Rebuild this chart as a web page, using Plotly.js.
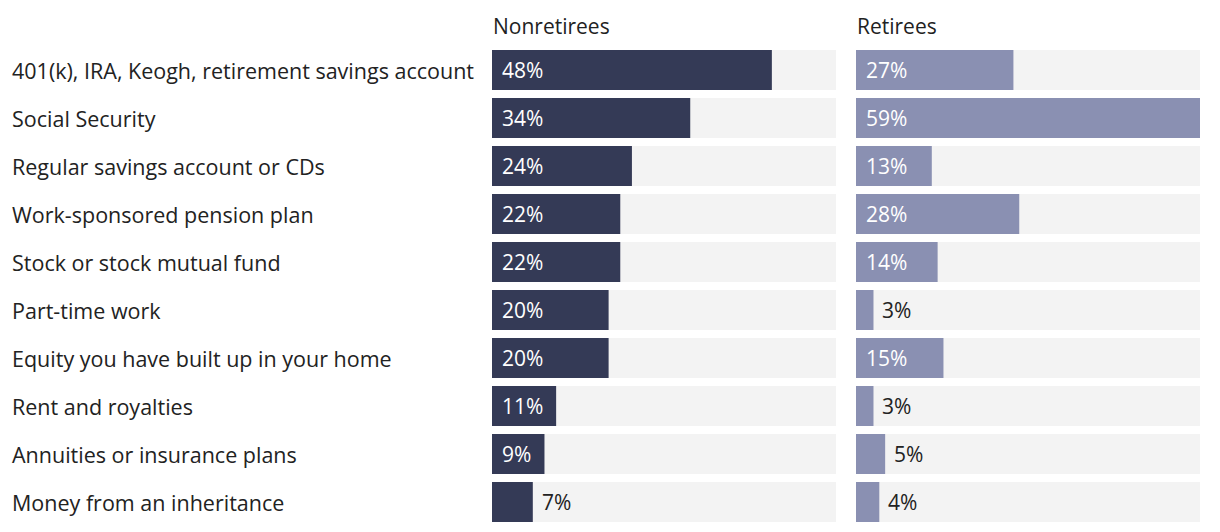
<!DOCTYPE html>
<html>
<head>
<meta charset="utf-8">
<script src="https://cdn.plot.ly/plotly-3.0.1.min.js"></script>
<style>html,body{margin:0;padding:0;background:#fff;}#chart{width:1220px;height:532px;}</style>
</head>
<body>
<div id="chart"></div>
<script>
const categories = [
  "401(k), IRA, Keogh, retirement savings account",
  "Social Security",
  "Regular savings account or CDs",
  "Work-sponsored pension plan",
  "Stock or stock mutual fund",
  "Part-time work",
  "Equity you have built up in your home",
  "Rent and royalties",
  "Annuities or insurance plans",
  "Money from an inheritance"
];
const nonretirees = [48, 34, 24, 22, 22, 20, 20, 11, 9, 7];
const retirees = [27, 59, 13, 28, 14, 3, 15, 3, 5, 4];
const panelTitles = ["Nonretirees", "Retirees"];

const W = 1220, H = 532;
const mL = 492, mR = 20, mT = 46, mB = 6;
const plotW = W - mL - mR;
const gapPx = 20;
const panelW = (plotW - gapPx) / 2;
const d1 = [0, panelW / plotW];
const d2 = [(panelW + gapPx) / plotW, 1];
const maxV = Math.max(...nonretirees, ...retirees);
const track = categories.map(() => maxV);
const FONT = "'Open Sans', sans-serif";
const FS = 21;
const FSL = 21.5;
const colors = ["#343a56", "#8a90b2"];
const series = [nonretirees, retirees];

const traces = [];
const annotations = [];
series.forEach((vals, i) => {
  const xa = i === 0 ? "x" : "x2";
  traces.push({
    type: "bar", orientation: "h", y: categories, x: track,
    xaxis: xa, yaxis: "y", marker: {color: "#f3f3f3"}, width: 0.833,
    hoverinfo: "skip", showlegend: false
  });
  traces.push({
    type: "bar", orientation: "h", y: categories, x: vals,
    xaxis: xa, yaxis: "y", marker: {color: colors[i]}, width: 0.833,
    hoverinfo: "skip", showlegend: false
  });
  vals.forEach((v, j) => {
    const inside = v >= 8;
    annotations.push({
      xref: xa, yref: "y", x: inside ? 0 : v, y: categories[j],
      xanchor: "left", yanchor: "middle", xshift: inside ? 8 : 7,
      text: v + "%", showarrow: false,
      font: {family: FONT, size: FS, color: inside ? "#ffffff" : "#222222"}
    });
  });
  annotations.push({
    xref: (i === 0 ? "x" : "x2") + " domain", yref: "paper", x: 0, y: 1,
    xanchor: "left", yanchor: "bottom", yshift: 4, xshift: -1,
    text: panelTitles[i], showarrow: false,
    font: {family: FONT, size: FS, color: "#222222"}
  });
});
categories.forEach((c) => {
  annotations.push({
    xref: "paper", yref: "y", x: (10 - mL) / plotW, y: c,
    xanchor: "left", yanchor: "middle", text: c, showarrow: false,
    font: {family: FONT, size: FSL, color: "#222222"}
  });
});

const axisCommon = {range: [0, maxV], showgrid: false, zeroline: false, showticklabels: false, ticks: "", fixedrange: true};
const layout = {
  width: W, height: H,
  margin: {l: mL, r: mR, t: mT, b: mB},
  paper_bgcolor: "#ffffff", plot_bgcolor: "#ffffff",
  barmode: "overlay",
  showlegend: false,
  xaxis: Object.assign({domain: d1}, axisCommon),
  xaxis2: Object.assign({domain: d2, anchor: "y"}, axisCommon),
  yaxis: {autorange: "reversed", showticklabels: false, showgrid: false, zeroline: false, ticks: "", fixedrange: true},
  annotations: annotations,
  font: {family: FONT, color: "#222222"}
};
Plotly.newPlot("chart", traces, layout, {displayModeBar: false, staticPlot: true});
</script>
</body>
</html>
